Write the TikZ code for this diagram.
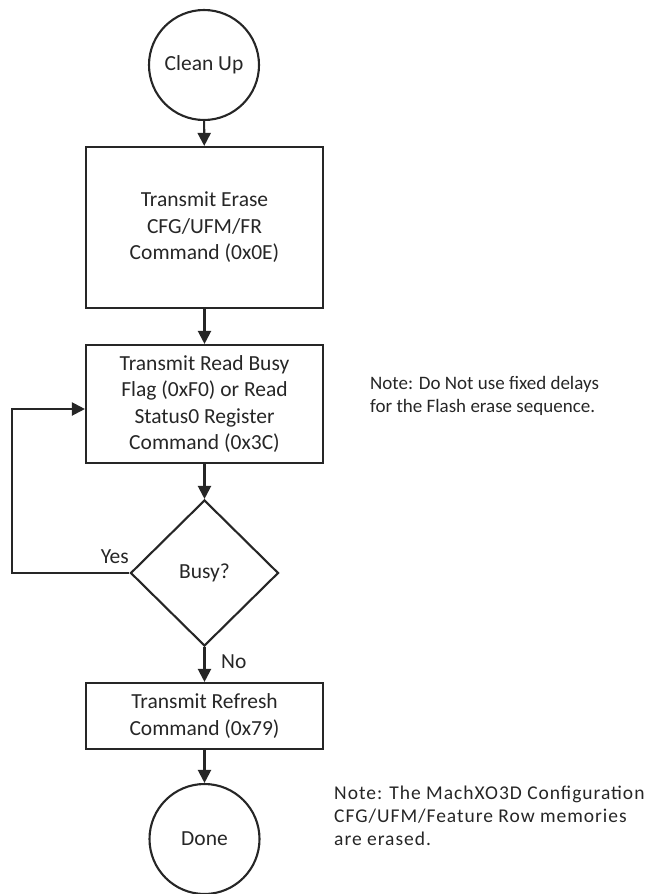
\documentclass[tikz,border=0pt]{standalone}
\usepackage{fontspec}
\setmainfont{Carlito}
\usetikzlibrary{shapes.geometric,arrows.meta,calc}
\tikzset{
  base/.style={draw=black!85, line width=2.1pt, align=center, inner sep=0pt,
    font=\fontsize{21.5}{26.5}\selectfont, text=black!85},
  termc/.style={base, circle, minimum size=110pt},
  procbox/.style={base, rectangle, minimum width=237pt},
  decide/.style={base, diamond, minimum width=148pt, minimum height=146pt},
  arr/.style={draw=black!85, line width=2.1pt, -{Triangle[length=13pt,width=13pt]}},
  lbl/.style={font=\fontsize{21.5}{26.5}\selectfont, text=black!85, inner sep=0pt},
  note/.style={font=\fontsize{19}{23}\selectfont, text=black!85, align=left, inner sep=0pt, anchor=west}
}
\begin{document}
\begin{tikzpicture}[x=1pt,y=-1pt]
\useasboundingbox (0,0) rectangle (657,894);
\node[termc] (cu) at (204,65) {Clean Up};
\node[procbox, minimum height=161pt] (b1) at (204.5,227.5) {Transmit Erase\\CFG/UFM/FR\\Command (0x0E)};
\node[procbox, minimum height=118pt] (b2) at (204.5,404) {Transmit Read Busy\\Flag (0xF0) or Read\\Status0 Register\\Command (0x3C)};
\node[decide] (d) at (204.5,573) {Busy?};
\node[procbox, minimum height=66pt] (b3) at (204.5,716) {Transmit Refresh\\Command (0x79)};
\node[termc] (done) at (204.5,839) {Done};
\coordinate (lp) at (12,573);
\draw[arr] (cu) -- (b1);
\draw[arr] (b1) -- (b2);
\draw[arr] (b2) -- (d);
\draw[arr] (d) -- (b3);
\draw[arr] (b3) -- (done);
\draw[arr] (d.west) -- (lp) |- ([yshift=-5pt]b2.west);
\node[lbl, anchor=east] (yes) at (129,557) {Yes};
\node[lbl, anchor=west] (no) at (221,662) {No};
\node[note] (n1) at (370,395.5) {Note: Do Not use fixed delays\\for the Flash erase sequence.};
\node[note, font=\fontsize{19.5}{23}\selectfont\addfontfeatures{LetterSpace=5}] (n2) at (334,816) {Note: The MachXO3D Configuration\\CFG/UFM/Feature Row memories\\are erased.};
\end{tikzpicture}
\end{document}
